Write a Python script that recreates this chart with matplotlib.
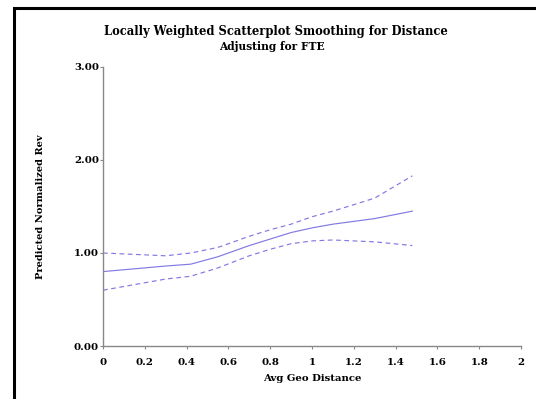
import matplotlib
matplotlib.use("Agg")
import matplotlib.pyplot as plt
from matplotlib.patches import Rectangle

# Data
dist = [0.0, 0.1, 0.2, 0.3, 0.42, 0.55, 0.7, 0.8, 0.9, 1.0, 1.1, 1.2, 1.3, 1.48]
pred = [0.80, 0.82, 0.84, 0.86, 0.88, 0.96, 1.08, 1.15, 1.22, 1.27, 1.31, 1.34, 1.37, 1.45]
upper = [1.00, 0.99, 0.98, 0.97, 1.00, 1.06, 1.18, 1.25, 1.31, 1.39, 1.45, 1.52, 1.59, 1.83]
lower = [0.60, 0.64, 0.68, 0.72, 0.75, 0.84, 0.97, 1.04, 1.10, 1.13, 1.14, 1.13, 1.12, 1.08]
xticks = [0, 0.2, 0.4, 0.6, 0.8, 1, 1.2, 1.4, 1.6, 1.8, 2]
xticklabels = ["0", "0.2", "0.4", "0.6", "0.8", "1", "1.2", "1.4", "1.6", "1.8", "2"]
yticks = [0, 1, 2, 3]
yticklabels = ["0.00", "1.00", "2.00", "3.00"]

plt.rcParams['font.family'] = ['DejaVu Serif']
fig = plt.figure(figsize=(5.36, 3.99), dpi=100)
W, H = 536, 399
ax = fig.add_axes([103 / W, 1 - 346 / H, (521 - 103) / W, (346 - 67) / H])

col = '#8279e2'
ax.plot(dist, pred, color=col, lw=0.85)
ax.plot(dist, upper, color=col, lw=0.85, ls=(0, (4, 3)))
ax.plot(dist, lower, color=col, lw=0.85, ls=(0, (4, 3)))

ax.set_xlim(0, 2)
ax.set_ylim(0, 3)
ax.set_xticks(xticks)
ax.set_xticklabels(xticklabels, fontsize=7.4, fontweight='bold')
ax.set_yticks(yticks)
ax.set_yticklabels(yticklabels, fontsize=7.4, fontweight='bold')
for s in ['top', 'right']:
    ax.spines[s].set_visible(False)
for s in ['left', 'bottom']:
    ax.spines[s].set_color('#888888')
    ax.spines[s].set_linewidth(1.0)
ax.tick_params(axis='x', direction='out', length=2.5, width=0.8, color='#888888', pad=6)
ax.tick_params(axis='y', direction='out', length=2, width=0.8, color='#888888', pad=1)
ax.set_xlabel('Avg Geo Distance', fontsize=7.3, fontweight='bold', labelpad=5)
ax.set_ylabel('Predicted Normalized Rev', fontsize=7.1, fontweight='bold', labelpad=21)

fig.text(276 / W, 1 - 32 / H, 'Locally Weighted Scatterplot Smoothing for Distance',
         ha='center', va='center', fontsize=8.3, fontweight='bold')
fig.text(272 / W, 1 - 46 / H, 'Adjusting for FTE', ha='center', va='center',
         fontsize=7.7, fontweight='bold')

fig.patches.append(Rectangle((14 / W, -0.1), 1.2, 1 - 8.5 / H + 0.1, transform=fig.transFigure,
                             fill=False, edgecolor='black', lw=2.2))
fig.savefig('out.png', dpi=100)
